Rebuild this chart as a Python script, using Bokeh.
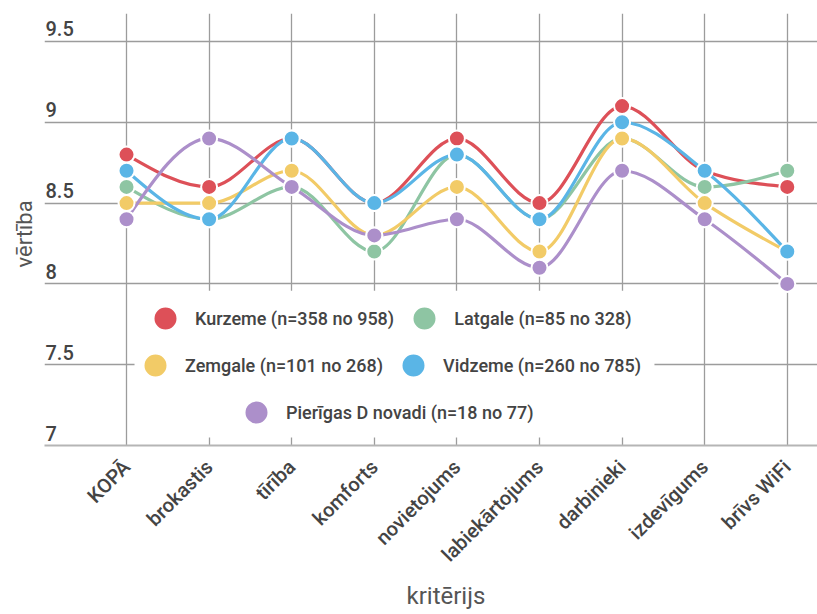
import numpy as np
from bokeh.plotting import figure
from bokeh.models import (ColumnDataSource, Range1d, FixedTicker, Legend, LegendItem,
                          Title, BoxAnnotation)
from bokeh.core.properties import value
from bokeh.embed import file_html
from bokeh.resources import INLINE

# --- data -------------------------------------------------------------------
criteria = ["KOPĀ", "brokastis", "tīrība", "komforts", "novietojums",
            "labiekārtojums", "darbinieki", "izdevīgums", "brīvs WiFi"]

kurzeme = [8.8, 8.6, 8.9, 8.5, 8.9, 8.5, 9.1, 8.7, 8.6]
latgale = [8.6, 8.4, 8.6, 8.2, 8.8, 8.4, 8.9, 8.6, 8.7]
zemgale = [8.5, 8.5, 8.7, 8.3, 8.6, 8.2, 8.9, 8.5, 8.2]
vidzeme = [8.7, 8.4, 8.9, 8.5, 8.8, 8.4, 9.0, 8.7, 8.2]
pierigas = [8.4, 8.9, 8.6, 8.3, 8.4, 8.1, 8.7, 8.4, 8.0]

series_names = ["Kurzeme (n=358 no 958)", "Latgale (n=85 no 328)",
                "Zemgale (n=101 no 268)", "Vidzeme (n=260 no 785)",
                "Pierīgas D novadi (n=18 no 77)"]
series_values = [kurzeme, latgale, zemgale, vidzeme, pierigas]
series_colors = ["#DD5058", "#8EC5A3", "#F2CB67", "#5AB5E6", "#AC8FCA"]

y_ticks = [7, 7.5, 8, 8.5, 9, 9.5]
y_tick_labels = ["7", "7.5", "8", "8.5", "9", "9.5"]

FONT = "Roboto"
FONT_MEDIUM = "Roboto Medium"
TEXT_DARK = "#444444"


def monotone_tangents(x, y):
    """Tangents of a monotone cubic (Steffen) curve through the points."""
    x = np.asarray(x, float)
    y = np.asarray(y, float)
    h = np.diff(x)
    s = np.diff(y) / h
    n = len(x)
    t = np.zeros(n)
    for i in range(1, n - 1):
        p = (s[i - 1] * h[i] + s[i] * h[i - 1]) / (h[i - 1] + h[i])
        t[i] = (np.sign(s[i - 1]) + np.sign(s[i])) * min(abs(s[i - 1]), abs(s[i]), 0.5 * abs(p))
    t[0] = (3 * s[0] - t[1]) / 2
    t[-1] = (3 * s[-1] - t[-2]) / 2
    return t


def bezier_segments(x, y):
    x = np.asarray(x, float)
    y = np.asarray(y, float)
    t = monotone_tangents(x, y)
    h = np.diff(x)
    return dict(
        x0=x[:-1], y0=y[:-1], x1=x[1:], y1=y[1:],
        cx0=x[:-1] + h / 3, cy0=y[:-1] + h / 3 * t[:-1],
        cx1=x[1:] - h / 3, cy1=y[1:] - h / 3 * t[1:],
    )


xs = np.arange(len(criteria))

p = figure(width=817, height=614, output_backend="svg", toolbar_location=None,
           x_range=Range1d(-0.993, 8.366), y_range=Range1d(7.0, 9.673),
           y_axis_location=None, background_fill_color="white",
           border_fill_color="white")
p.outline_line_color = None
p.min_border_left = 44
p.min_border_right = 0
p.min_border_top = 13
p.min_border_bottom = 169

# grid
p.xgrid.ticker = FixedTicker(ticks=list(xs))
p.ygrid.ticker = FixedTicker(ticks=y_ticks)
for g in (p.xgrid, p.ygrid):
    g.grid_line_color = "#9c9c9c"
    g.grid_line_width = 1.3

# x axis
p.xaxis.ticker = FixedTicker(ticks=list(xs))
p.xaxis.major_label_overrides = {int(i): c for i, c in zip(xs, criteria)}
p.xaxis.major_label_orientation = np.pi / 4
p.xaxis.major_label_standoff = 12
p.xaxis.major_label_text_font = FONT_MEDIUM
p.xaxis.major_label_text_font_size = "20px"
p.xaxis.major_label_text_color = TEXT_DARK
p.xaxis.axis_line_color = "#b5b5b5"
p.xaxis.axis_line_width = 2
p.xaxis.major_tick_line_color = None
p.xaxis.minor_tick_line_color = None

# y tick labels sit just above their grid lines
p.text(x=-0.993, y=y_ticks, text=y_tick_labels, x_offset=1, y_offset=-5,
       text_font=value(FONT_MEDIUM), text_font_size=value("20px"), text_color=TEXT_DARK,
       text_align="left", text_baseline="bottom")

# smooth lines
for vals, color in zip(series_values, series_colors):
    src = ColumnDataSource(bezier_segments(xs, vals))
    p.bezier(x0="x0", y0="y0", x1="x1", y1="y1", cx0="cx0", cy0="cy0",
             cx1="cx1", cy1="cy1", source=src, line_color=color, line_width=3.2)

# points
point_renderers = []
for vals, color in zip(series_values, series_colors):
    r = p.scatter(x=xs, y=vals, size=16, fill_color=color, line_color="white",
                  line_width=2)
    point_renderers.append(r)

# legend panel
p.add_layout(BoxAnnotation(left=0.097, right=6.392, bottom=7.049, top=7.958,
                           fill_color="white", fill_alpha=1.0, line_color=None))

legend_rows = [([0, 1], (91, 97)), ([2, 3], (81, 50)), ([4], (182, 3))]
for idx, loc in legend_rows:
    items = [LegendItem(label=series_names[i], renderers=[point_renderers[i]]) for i in idx]
    lg = Legend(items=items, location=loc, orientation="horizontal",
                glyph_width=60, glyph_height=60, label_standoff=0, spacing=0,
                padding=0, margin=0, border_line_color=None,
                background_fill_alpha=0.0, label_text_font=FONT_MEDIUM,
                label_text_font_size="18px", label_text_color=TEXT_DARK)
    p.add_layout(lg, "center")

# axis titles
p.add_layout(Title(text="kritērijs", align="left", offset=362, standoff=5,
                   text_font=FONT, text_font_size="24px", text_font_style="normal",
                   text_color="#555555"), "below")
p.add_layout(Title(text="vērtība", align="left", offset=178, standoff=16,
                   text_font=FONT, text_font_size="22px", text_font_style="normal",
                   text_color="#555555"), "left")

open("out.html", "w").write(file_html(p, INLINE))
